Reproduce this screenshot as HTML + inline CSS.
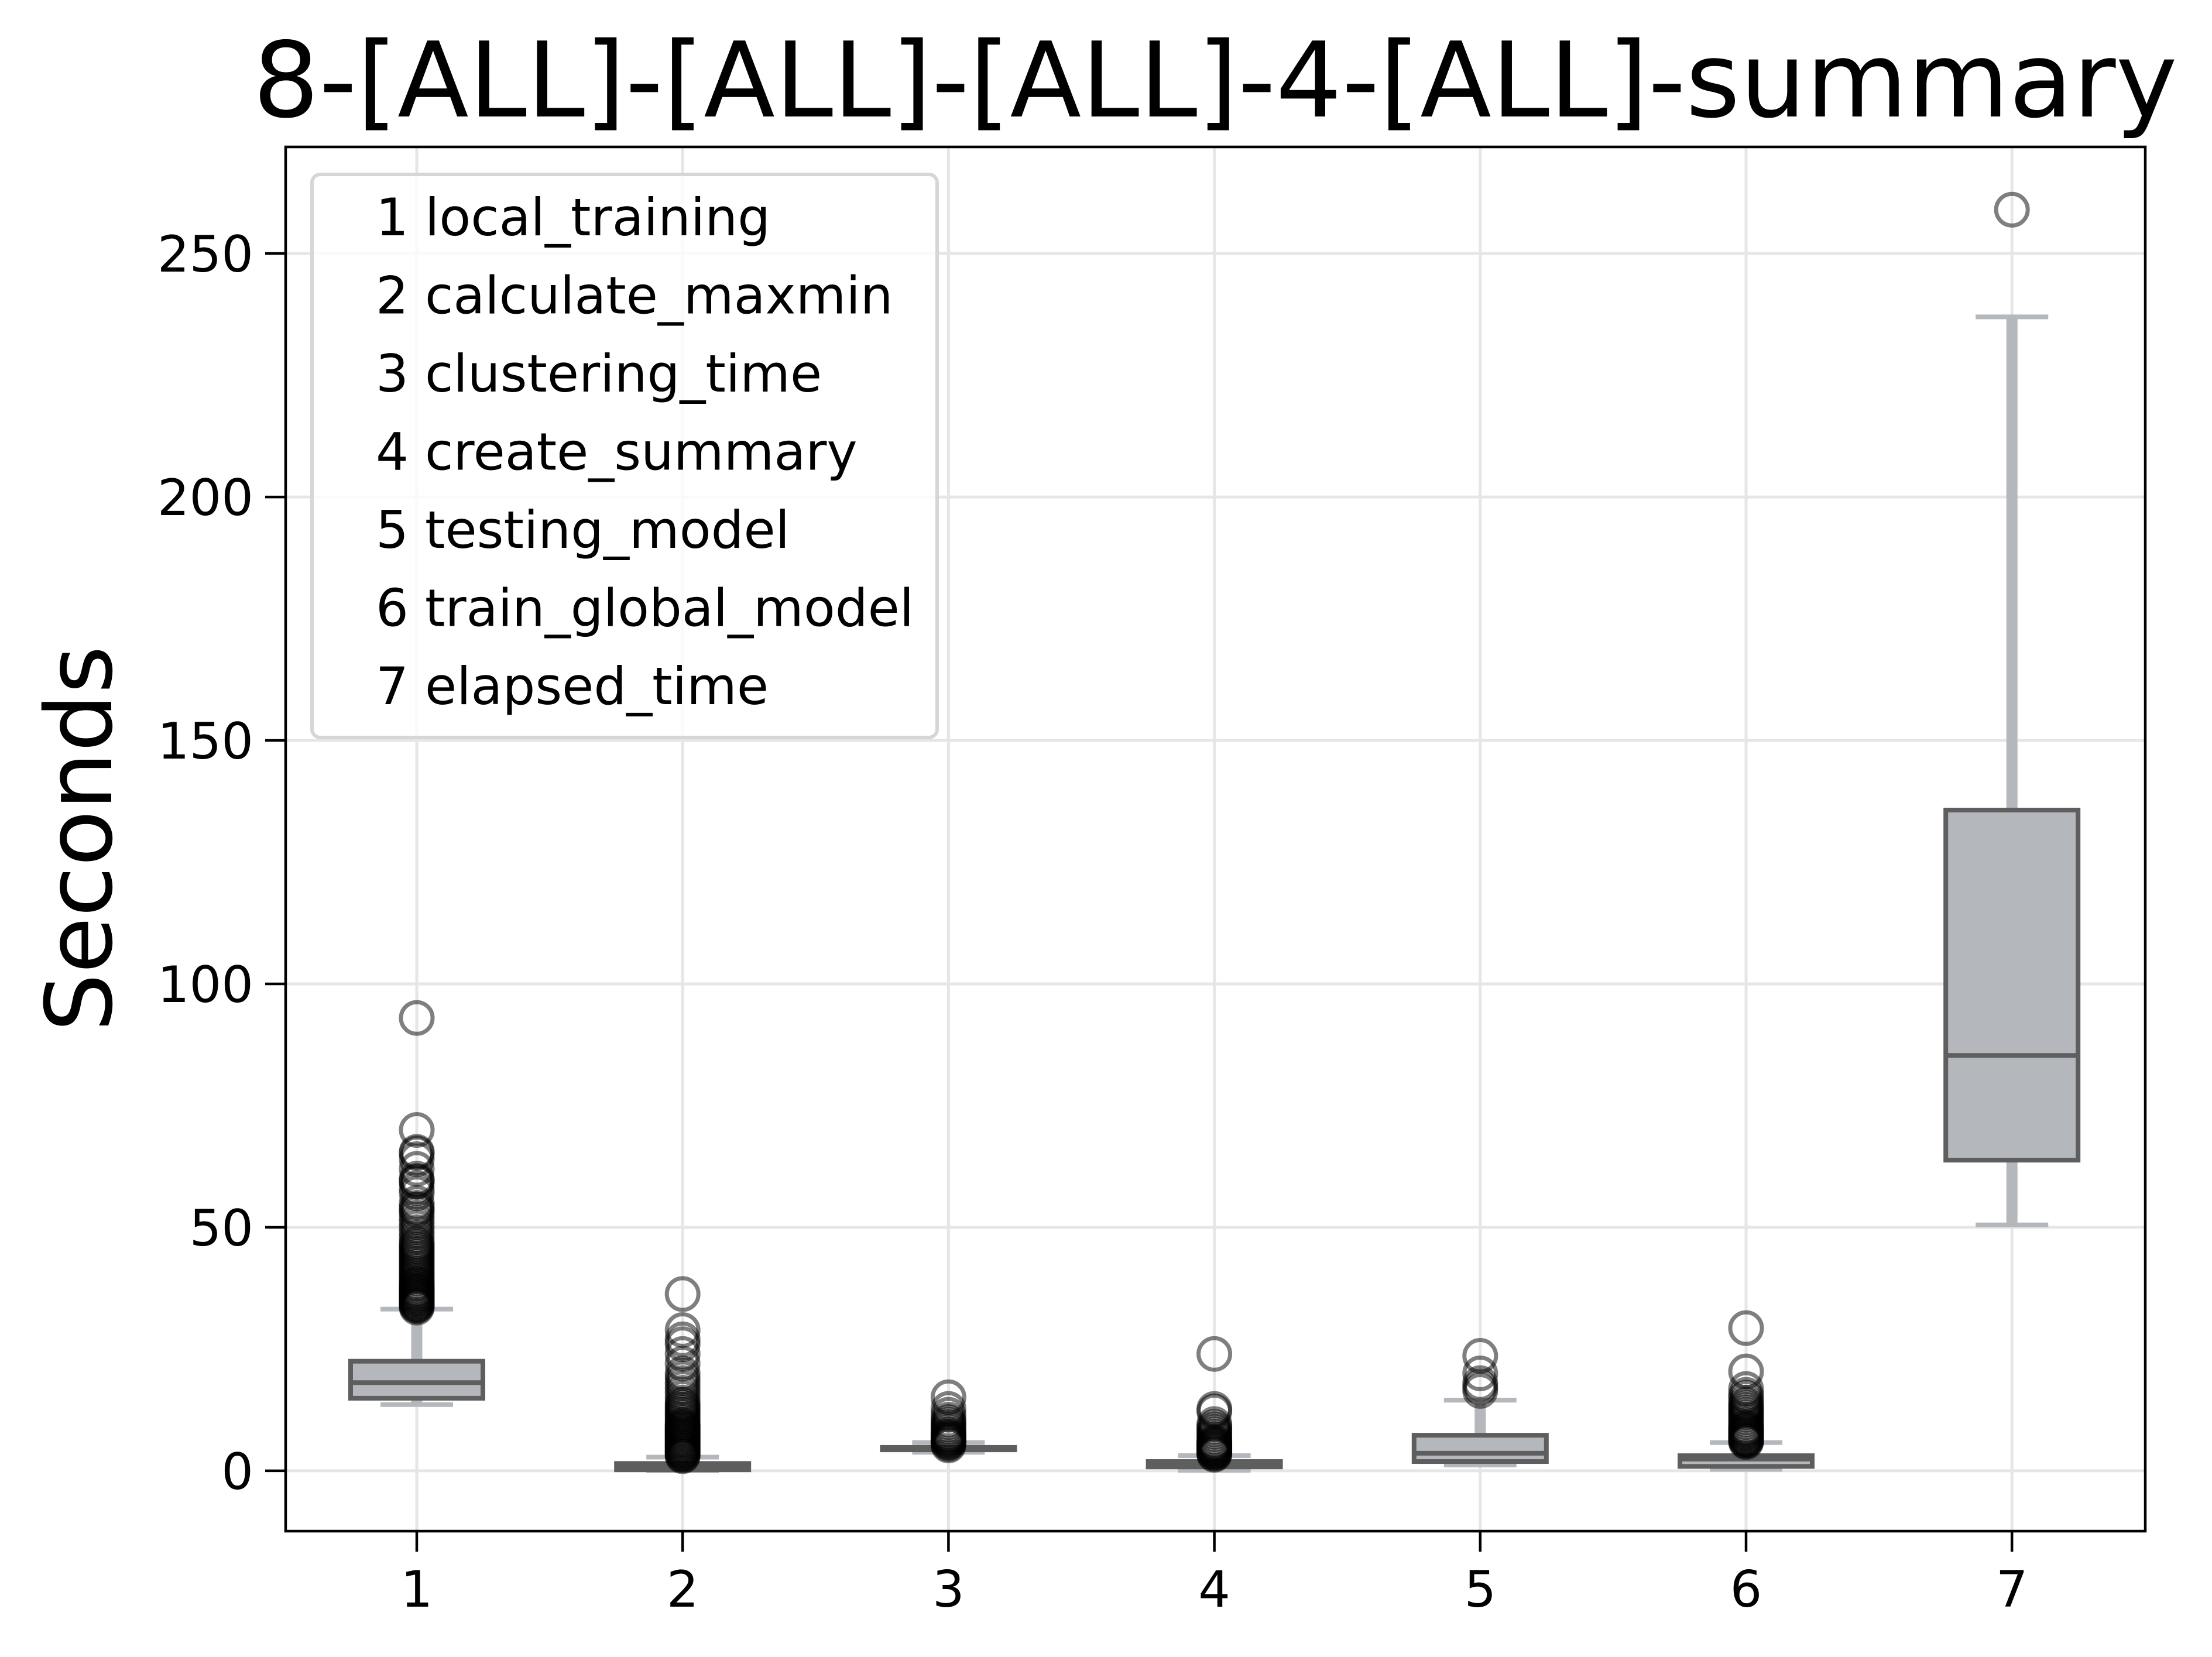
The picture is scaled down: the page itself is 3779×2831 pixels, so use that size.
<!DOCTYPE html>
<html><head><meta charset="utf-8"><style>
html,body{margin:0;padding:0;background:#fff;}
svg{display:block;font-family:"DejaVu Sans","Liberation Sans",sans-serif;}
</style></head><body>
<svg id="chart" width="3779" height="2831" viewBox="0 0 3779 2831" xmlns="http://www.w3.org/2000/svg">
<rect x="0" y="0" width="3779" height="2831" fill="#fff"/>
<g id="grid"></g>
<g id="boxes"></g>
<rect x="488" y="251" width="3177" height="2365" fill="none" stroke="#000" stroke-width="4.5"/>
<g id="ticks"></g>
<text x="2076" y="199" font-size="178" text-anchor="middle">8-[ALL]-[ALL]-[ALL]-4-[ALL]-summary</text>
<text x="0" y="0" font-size="157" text-anchor="middle" transform="translate(190,1433) rotate(-90)">Seconds</text>
<g>
<rect x="533" y="298" width="1068" height="962" rx="14" fill="#fff" fill-opacity="0.8" stroke="#d6d6d6" stroke-width="6"/>
<g id="legend" font-size="88"></g>
</g>
</svg>
<script>
const categories = ["1","2","3","4","5","6","7"];
const legendLabels = ["1 local_training","2 calculate_maxmin","3 clustering_time","4 create_summary","5 testing_model","6 train_global_model","7 elapsed_time"];
const q1 = [14.9, 0.2, 4.3, 0.8, 1.9, 0.9, 63.8];
const medians = [18.1, 0.7, 4.6, 1.3, 3.6, 2.4, 85.3];
const q3 = [22.5, 1.5, 4.8, 1.9, 7.3, 3.1, 135.7];
const whiskLow = [13.6, 0.0, 3.8, 0.1, 1.2, 0.3, 50.5];
const whiskHigh = [33.2, 2.8, 5.8, 3.1, 14.5, 5.8, 237];
const outliers1 = [33.5,33.8,34,34.2,34.5,34.8,35,35.3,35.5,35.8,36,36.3,36.5,36.8,37,37.3,37.5,38,38.3,38.5,39,39.5,40,40.5,41,41.5,42,42.5,43,43.5,44,44.5,45,45.5,46,46.5,47,48,49,50,51,52,53,53.7,54,55,57,58,59.3,59.5,60,62,64,65.2,65.5,70,93];
const outliers2 = [3,3.2,3.5,3.8,4,4.2,4.5,4.8,5,5.2,5.5,5.8,6,6.3,6.5,6.8,7,7.3,7.5,7.8,8,8.3,8.5,8.8,9,9.3,9.5,10,10.5,11,11.5,12,12.5,13,13.5,14,15,16,17,18,19,20,22,24,26,27,28.9,36.3];
const outliers3 = [5.2,5.5,5.8,6,6.2,6.4,6.6,6.8,7,7.3,7.5,8,8.5,9,9.5,10,10.5,11.5,12.7,15.1];
const outliers4 = [3.3,3.5,3.7,4,4.2,4.4,4.6,4.8,5,5.2,5.4,5.6,5.8,6,6.5,7,7.5,8,8.5,9,9.6,12.2,12.7,24];
const outliers5 = [16.4,17.2,18,20,23.6];
const outliers6 = [5.9,6.1,6.3,6.5,6.7,7,7.3,7.5,7.8,8,8.3,8.5,8.8,9,9.5,10,10.5,11,11.5,12,12.5,13,13.5,14,15,15.6,16.8,20.4,29.3];
const outliers7 = [259];
const outlierSets = [outliers1,outliers2,outliers3,outliers4,outliers5,outliers6,outliers7];
const yTicks = [0,50,100,150,200,250];

const NS = "http://www.w3.org/2000/svg";
const X0 = 488, X1 = 3665, Y0 = 2616, Y1 = 251;
const yMin = -12.4, yMax = 271.9;
function yPos(v){ return Y0 - (v - yMin) / (yMax - yMin) * (Y0 - Y1); }
function xPos(i){ return 712 + i * 454.2; }
function mk(tag, attrs, parent){
  const e = document.createElementNS(NS, tag);
  for (const k in attrs) e.setAttribute(k, attrs[k]);
  parent.appendChild(e); return e;
}
const grid = document.getElementById('grid');
const ticks = document.getElementById('ticks');
const boxes = document.getElementById('boxes');
const legend = document.getElementById('legend');

yTicks.forEach(t => {
  const y = yPos(t);
  const g = mk('line', {x1:X0, x2:X1, y1:y, y2:y, stroke:'#e6e6e6', 'stroke-width':5}, grid);
  
  
  const tk = mk('line', {x1:X0-35, x2:X0, y1:y, y2:y, stroke:'#000', 'stroke-width':4.5}, ticks);
  
  
  const tx = mk('text', {x:X0-55, y:y+31, 'font-size':86, 'text-anchor':'end'}, ticks);
  tx.textContent = String(t);
  
  
});
categories.forEach((c, i) => {
  const x = xPos(i);
  const g = mk('line', {x1:x, x2:x, y1:Y1, y2:Y0, stroke:'#e6e6e6', 'stroke-width':5}, grid);
  
  
  const tk = mk('line', {x1:x, x2:x, y1:Y0, y2:Y0+35, stroke:'#000', 'stroke-width':4.5}, ticks);
  
  
  const tx = mk('text', {x:x, y:2745, 'font-size':86, 'text-anchor':'middle'}, ticks);
  tx.textContent = c;
  
  

  const grp = mk('g', {}, boxes);
  
  
  const wl = mk('line', {x1:x, x2:x, y1:yPos(whiskLow[i]), y2:yPos(q1[i]), stroke:'#b4b7bb', 'stroke-width':19}, grp);
  
  
  const wh = mk('line', {x1:x, x2:x, y1:yPos(whiskHigh[i]), y2:yPos(q3[i]), stroke:'#b4b7bb', 'stroke-width':19}, grp);
  
  
  [whiskLow[i], whiskHigh[i]].forEach(v => {
    const cp = mk('line', {x1:x-62, x2:x+62, y1:yPos(v), y2:yPos(v), stroke:'#b4b7bb', 'stroke-width':8}, grp);
    
    
  });
  const top = yPos(q3[i]), bot = yPos(q1[i]);
  const bx = mk('rect', {x:x-113, y:top, width:226, height:Math.max(bot-top,0.5), fill:'#b4b7bb', stroke:'#5e5e5e', 'stroke-width':8}, grp);
  
  
  const md = mk('line', {x1:x-113, x2:x+113, y1:yPos(medians[i]), y2:yPos(medians[i]), stroke:'#5e5e5e', 'stroke-width':8}, grp);
  
  
  outlierSets[i].forEach(v => {
    const o = mk('circle', {cx:x, cy:yPos(v), r:27, fill:'none', stroke:'#000', 'stroke-opacity':0.5, 'stroke-width':7}, grp);
    
    
  });
});
legendLabels.forEach((l, i) => {
  const t = mk('text', {x:642, y:402 + i*133.5}, legend);
  t.textContent = l;
  
  
});
</script>
</body></html>
